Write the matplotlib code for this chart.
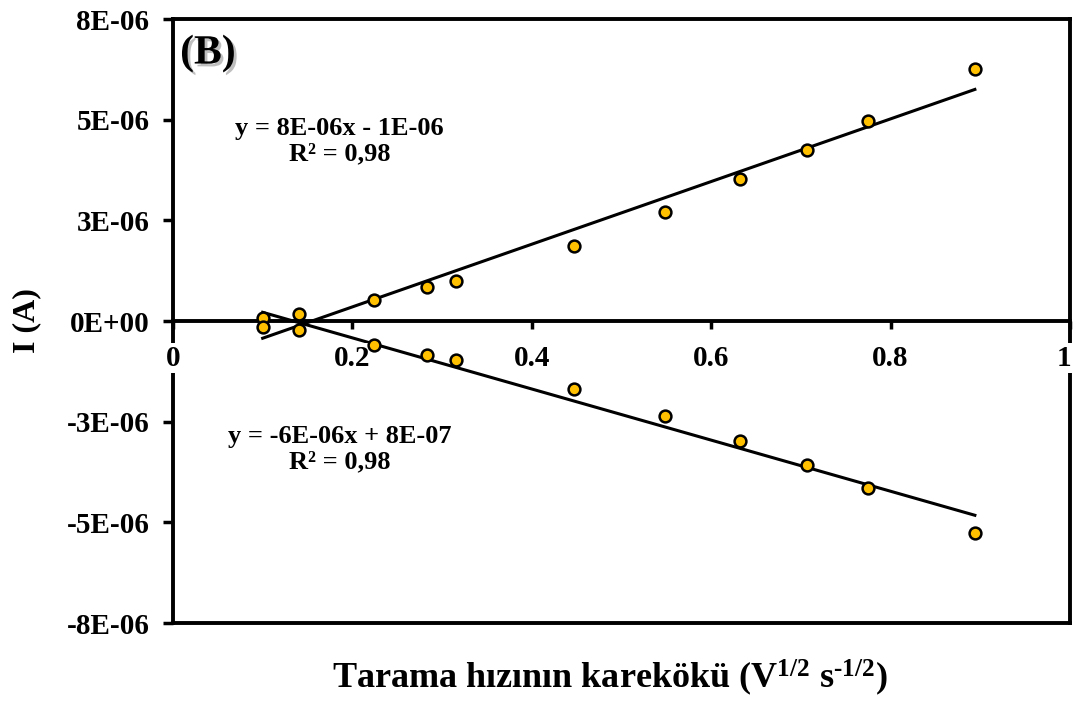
import numpy as np
import matplotlib
matplotlib.use("Agg")
import matplotlib.pyplot as plt
import matplotlib.patheffects as pe
import matplotlib.transforms as mtransforms

plt.rcParams['font.family'] = ['Liberation Serif', 'DejaVu Serif']
plt.rcParams['font.weight'] = 'bold'
plt.rcParams['mathtext.fontset'] = 'custom'
plt.rcParams['mathtext.rm'] = 'Liberation Serif:bold'
plt.rcParams['mathtext.it'] = 'Liberation Serif:bold'
plt.rcParams['mathtext.bf'] = 'Liberation Serif:bold'

# square root of scan rate (V^1/2 s^-1/2)
sqrt_rate = [0.100, 0.141, 0.224, 0.283, 0.316, 0.447, 0.548, 0.632, 0.707, 0.775, 0.894]
# anodic and cathodic peak currents (A)
i_anodic = [0.07e-6, 0.17e-6, 0.52e-6, 0.84e-6, 0.99e-6, 1.86e-6, 2.71e-6, 3.53e-6, 4.25e-6, 4.97e-6, 6.26e-6]
i_cathodic = [-0.15e-6, -0.22e-6, -0.60e-6, -0.84e-6, -0.97e-6, -1.69e-6, -2.36e-6, -2.98e-6, -3.58e-6, -4.15e-6, -5.26e-6]

y_ticks = [-7.5e-6, -5e-6, -2.5e-6, 0, 2.5e-6, 5e-6, 7.5e-6]
y_tick_labels = ['-8E-06', '-5E-06', '-3E-06', '0E+00', '3E-06', '5E-06', '8E-06']
x_ticks = [0, 0.2, 0.4, 0.6, 0.8, 1.0]
x_tick_labels = ['0', '0.2', '0.4', '0.6', '0.8', '1']

eq_anodic = "y = 8E-06x - 1E-06\nR² = 0,98"
eq_cathodic = "y = -6E-06x + 8E-07\nR² = 0,98"

fig = plt.figure(figsize=(10.75, 7.02), dpi=100)
ax = fig.add_axes([0.1609, 0.1125, 0.8344, 0.8604])

x = np.array(sqrt_rate)
for series in (i_anodic, i_cathodic):
    y = np.array(series)
    m, b = np.polyfit(x, y, 1)
    xs = np.array([x.min(), x.max()])
    ax.plot(xs, m * xs + b, color='black', lw=2.2, zorder=3)
    ax.plot(x, y, 'o', ms=8.5, mfc='#FFC000', mec='black', mew=1.8, zorder=4)

ax.set_xlim(0, 1)
ax.set_ylim(-7.5e-6, 7.5e-6)

# x axis drawn through zero, frame closed with extra bottom line
ax.spines['bottom'].set_position(('data', 0))
for s in ax.spines.values():
    s.set_linewidth(2.8)
ax.plot([0, 1], [-7.5e-6, -7.5e-6], color='black', lw=2.8, clip_on=False,
        solid_capstyle='projecting', zorder=5)

ax.set_yticks(y_ticks)
ax.set_yticklabels(y_tick_labels, fontsize=21, fontweight='bold')
ax.set_xticks(x_ticks)
ax.set_xticklabels(x_tick_labels, fontsize=21, fontweight='bold')
ax.tick_params(axis='y', direction='out', length=7, width=2.5, pad=10)
ax.tick_params(axis='x', direction='out', length=6, width=2.5, pad=11)
ax.xaxis.set_zorder(3.5)
xlabels = ax.get_xticklabels()
for lbl in xlabels:
    lbl.set_bbox(dict(facecolor='white', edgecolor='none', pad=1))
# keep the last label inside the canvas
xlabels[-1].set_transform(xlabels[-1].get_transform() +
                          mtransforms.ScaledTranslation(-4 / 72, 0, fig.dpi_scale_trans))

ax.set_ylabel('I (A)', fontsize=23, fontweight='bold', labelpad=18)
fig.text(0.5674, 0.034, 'Tarama hızının karekökü (V$^{1/2}$ s$^{\\text{-}1/2}$)',
         ha='center', va='center', fontsize=26, fontweight='bold')

ax.text(0.186, 4.47e-6, eq_anodic, ha='center', va='center', fontsize=19,
        fontweight='bold', linespacing=1.15)
ax.text(0.186, -3.18e-6, eq_cathodic, ha='center', va='center', fontsize=19,
        fontweight='bold', linespacing=1.15)

ax.text(0.008, 0.975, '(B)', transform=ax.transAxes, ha='left', va='top',
        fontsize=30, fontweight='bold',
        path_effects=[pe.withSimplePatchShadow(offset=(2, -2), shadow_rgbFace='gray', alpha=0.5)])

fig.savefig('out.png', dpi=100)
